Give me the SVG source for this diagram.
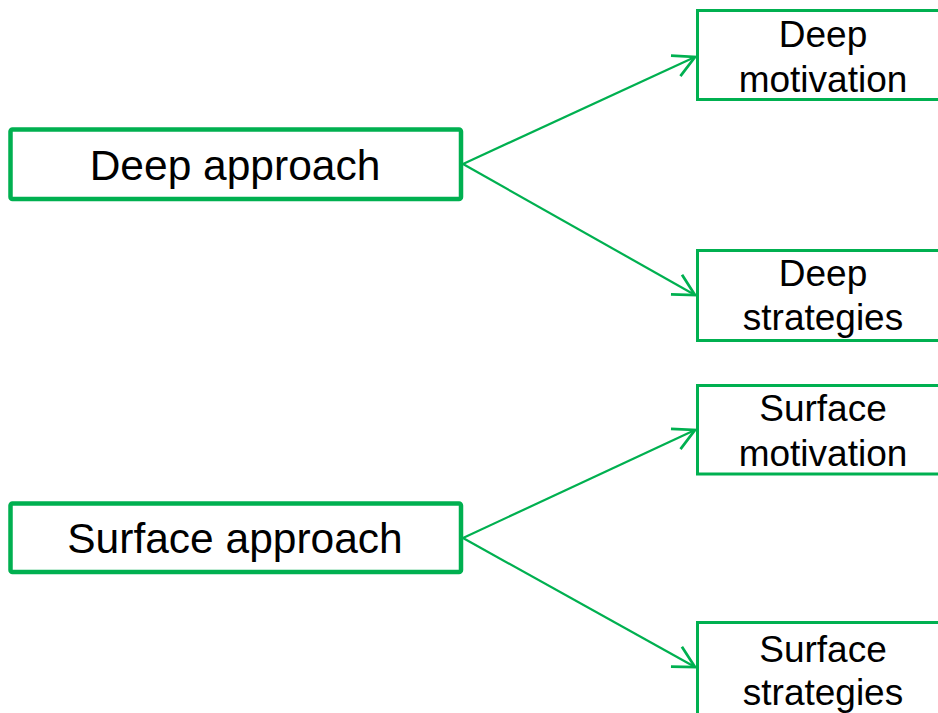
<svg xmlns="http://www.w3.org/2000/svg" width="938" height="713" viewBox="0 0 938 713">
<style>
.big{fill:#fff;stroke:#00B050;stroke-width:4.5}
.small{fill:#fff;stroke:#00B050;stroke-width:3}
.tb{font-family:"Liberation Sans",Arial,sans-serif;font-size:42.5px;fill:#000;text-anchor:middle}
.ts{font-family:"Liberation Sans",Arial,sans-serif;font-size:37px;fill:#000;text-anchor:middle}
.conn{stroke:#00B050;stroke-width:2.2;fill:none}
</style>
<defs>
<marker id="arr" markerUnits="userSpaceOnUse" markerWidth="30" markerHeight="30" viewBox="-20 -12 24 24" refX="0" refY="0" orient="auto">
<path d="M-17,-9 L0,0 L-17,9" fill="none" stroke="#00B050" stroke-width="2.2"/>
</marker>
</defs>
<g id="connectors">
<line class="conn" x1="463" y1="164" x2="695" y2="57" marker-end="url(#arr)"/>
<line class="conn" x1="463" y1="164" x2="695" y2="295" marker-end="url(#arr)"/>
<line class="conn" x1="463" y1="538" x2="695" y2="430" marker-end="url(#arr)"/>
<line class="conn" x1="463" y1="538" x2="695" y2="667" marker-end="url(#arr)"/>
</g>
<g id="deep-approach">
<rect class="big" x="10.5" y="129.5" width="450.5" height="69.5" rx="2"/>
<text class="tb" x="235" y="180">Deep approach</text>
</g>
<g id="surface-approach">
<rect class="big" x="10.5" y="503.5" width="450.5" height="68.5" rx="2"/>
<text class="tb" x="235" y="553">Surface approach</text>
</g>
<g id="deep-motivation">
<rect class="small" x="697.5" y="10.5" width="260" height="89"/>
<text class="ts" x="823" y="47">Deep</text>
<text class="ts" x="823" y="92">motivation</text>
</g>
<g id="deep-strategies">
<rect class="small" x="697.5" y="250.5" width="260" height="90"/>
<text class="ts" x="823" y="286">Deep</text>
<text class="ts" x="823" y="330">strategies</text>
</g>
<g id="surface-motivation">
<rect class="small" x="697.5" y="385.5" width="260" height="88.5"/>
<text class="ts" x="823" y="421">Surface</text>
<text class="ts" x="823" y="466">motivation</text>
</g>
<g id="surface-strategies">
<rect class="small" x="697.5" y="622.5" width="260" height="120"/>
<text class="ts" x="823" y="662">Surface</text>
<text class="ts" x="823" y="705">strategies</text>
</g>
</svg>
